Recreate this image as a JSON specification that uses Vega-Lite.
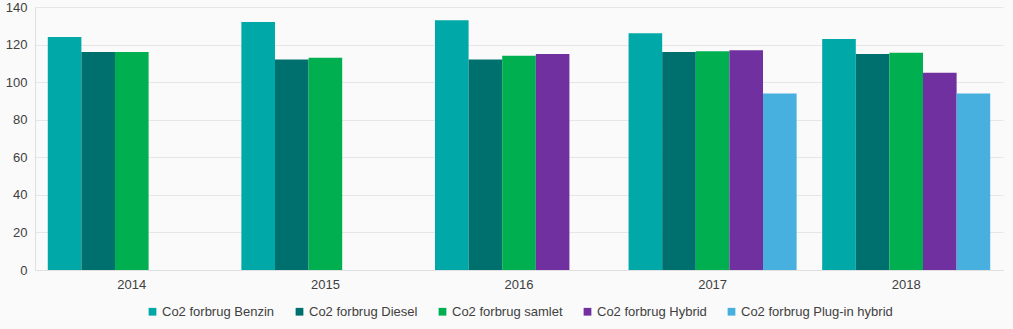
{
  "$schema": "https://vega.github.io/schema/vega-lite/v6.json",
  "autosize": {"type": "fit", "contains": "padding"},
  "width": 1013,
  "height": 329,
  "padding": {"left": 5, "top": 1, "right": 10, "bottom": 10},
  "background": "#fafafa",
  "config": {
    "view": {"stroke": null},
    "font": "Liberation Sans",
    "axis": {"labelFont": "Liberation Sans", "labelColor": "#404040", "labelFontSize": 13, "ticks": false, "title": null, "gridColor": "#e6e6e6", "domainColor": "#e0e0e0"},
    "legend": {"labelFont": "Liberation Sans", "labelColor": "#404040", "labelFontSize": 13, "layout": {"bottom": {"anchor": "middle"}}}
  },
  "data": {
    "values": [
      {"year": "2014", "series": "Co2 forbrug Benzin", "value": 124},
      {"year": "2014", "series": "Co2 forbrug Diesel", "value": 116},
      {"year": "2014", "series": "Co2 forbrug samlet", "value": 116},
      {"year": "2015", "series": "Co2 forbrug Benzin", "value": 132},
      {"year": "2015", "series": "Co2 forbrug Diesel", "value": 112},
      {"year": "2015", "series": "Co2 forbrug samlet", "value": 113},
      {"year": "2016", "series": "Co2 forbrug Benzin", "value": 133},
      {"year": "2016", "series": "Co2 forbrug Diesel", "value": 112},
      {"year": "2016", "series": "Co2 forbrug samlet", "value": 114},
      {"year": "2016", "series": "Co2 forbrug Hybrid", "value": 115},
      {"year": "2017", "series": "Co2 forbrug Benzin", "value": 126},
      {"year": "2017", "series": "Co2 forbrug Diesel", "value": 116},
      {"year": "2017", "series": "Co2 forbrug samlet", "value": 116.5},
      {"year": "2017", "series": "Co2 forbrug Hybrid", "value": 117},
      {"year": "2017", "series": "Co2 forbrug Plug-in hybrid", "value": 94},
      {"year": "2018", "series": "Co2 forbrug Benzin", "value": 123},
      {"year": "2018", "series": "Co2 forbrug Diesel", "value": 115},
      {"year": "2018", "series": "Co2 forbrug samlet", "value": 115.6},
      {"year": "2018", "series": "Co2 forbrug Hybrid", "value": 105},
      {"year": "2018", "series": "Co2 forbrug Plug-in hybrid", "value": 94}
    ]
  },
  "mark": {"type": "bar"},
  "encoding": {
    "x": {
      "field": "year", "type": "nominal",
      "scale": {"paddingInner": 0.132, "paddingOuter": 0.066},
      "axis": {"labelAngle": 0, "labelPadding": 8, "domain": true}
    },
    "xOffset": {
      "field": "series", "type": "nominal",
      "scale": {"domain": ["Co2 forbrug Benzin", "Co2 forbrug Diesel", "Co2 forbrug samlet", "Co2 forbrug Hybrid", "Co2 forbrug Plug-in hybrid"], "paddingInner": 0, "paddingOuter": 0}
    },
    "y": {
      "field": "value", "type": "quantitative",
      "scale": {"domain": [0, 140], "nice": false},
      "axis": {"values": [0, 20, 40, 60, 80, 100, 120, 140], "labelPadding": 8, "domain": true}
    },
    "color": {
      "field": "series", "type": "nominal",
      "scale": {
        "domain": ["Co2 forbrug Benzin", "Co2 forbrug Diesel", "Co2 forbrug samlet", "Co2 forbrug Hybrid", "Co2 forbrug Plug-in hybrid"],
        "range": ["#00A9A8", "#00706E", "#00AF50", "#7030A0", "#48B0DF"]
      },
      "legend": {"orient": "bottom", "direction": "horizontal", "title": null, "symbolType": "square", "symbolSize": 60, "symbolStrokeWidth": 0, "columnPadding": 18, "labelOffset": 3, "offset": 14}
    }
  }
}
